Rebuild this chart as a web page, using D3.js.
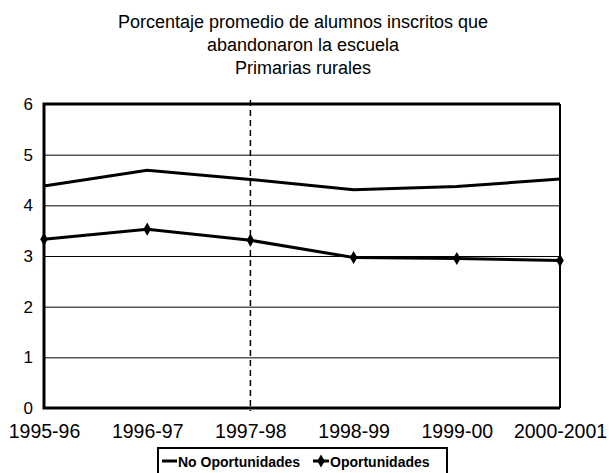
<!DOCTYPE html>
<html>
<head>
<meta charset="utf-8">
<script src="https://cdn.jsdelivr.net/npm/d3@7"></script>
<style>
body { margin: 0; background: #fff; }
text { font-family: "Liberation Sans", Arial, sans-serif; fill: #000; }
</style>
</head>
<body>
<script>
var ciclos = ["1995-96", "1996-97", "1997-98", "1998-99", "1999-00", "2000-2001"];
var noOportunidades = [4.38, 4.69, 4.51, 4.31, 4.37, 4.52];
var oportunidades = [3.33, 3.53, 3.31, 2.97, 2.95, 2.91];
var yTicks = [0, 1, 2, 3, 4, 5, 6];
var titulo = ["Porcentaje promedio de alumnos inscritos que", "abandonaron la escuela", "Primarias rurales"];
var leyenda = ["No Oportunidades", "Oportunidades"];

var width = 609, height = 473;
var mLeft = 44, mRight = 560, mTop = 104, mBottom = 408;

var svg = d3.select("body").append("svg").attr("width", width).attr("height", height);

var x = d3.scalePoint().domain(ciclos).range([mLeft, mRight]);
var y = d3.scaleLinear().domain([0, 6]).range([mBottom, mTop]);

// titulo
svg.selectAll(".titulo").data(titulo).enter().append("text")
  .attr("class", "titulo")
  .attr("x", 303).attr("y", function(d, i){ return 28 + i * 23; })
  .attr("text-anchor", "middle")
  .style("font-size", "18px")
  .text(function(d){ return d; });

// lineas de cuadricula
var yAxis = d3.axisLeft(y).tickValues(yTicks).tickSize(-(mRight - mLeft)).tickPadding(11).tickFormat(d3.format("d"));
var gy = svg.append("g").attr("transform", "translate(" + mLeft + ",0)").call(yAxis);
gy.select(".domain").remove();
gy.selectAll("line").attr("stroke", "#000").attr("stroke-width", 1);
gy.selectAll("text").style("font-size", "17px");

var xAxis = d3.axisBottom(x).tickSize(0).tickPadding(16);
var gx = svg.append("g").attr("transform", "translate(0," + mBottom + ")").call(xAxis);
gx.select(".domain").remove();
gx.selectAll("text").style("font-size", "19.5px");

// linea punteada
svg.append("line")
  .attr("x1", x("1997-98")).attr("x2", x("1997-98"))
  .attr("y1", mTop - 4).attr("y2", mBottom + 3)
  .attr("stroke", "#000").attr("stroke-width", 1.5).attr("stroke-dasharray", "6,4");

// marco
svg.append("path")
  .attr("d", "M" + mRight + "," + mTop + "H" + mLeft + "V" + mBottom + "H" + mRight)
  .attr("fill", "none").attr("stroke", "#000").attr("stroke-width", 3);
svg.append("line")
  .attr("x1", mRight).attr("x2", mRight).attr("y1", mTop).attr("y2", mBottom)
  .attr("stroke", "#000").attr("stroke-width", 2);

var line = d3.line().x(function(d, i){ return x(ciclos[i]); }).y(function(d){ return y(d); });

svg.append("path").datum(noOportunidades).attr("d", line)
  .attr("fill", "none").attr("stroke", "#000").attr("stroke-width", 3);
svg.append("path").datum(oportunidades).attr("d", line)
  .attr("fill", "none").attr("stroke", "#000").attr("stroke-width", 3);

var diamond = d3.symbol().type(d3.symbolDiamond).size(50);
svg.selectAll(".pt").data(oportunidades).enter().append("path")
  .attr("class", "pt")
  .attr("d", diamond)
  .attr("transform", function(d, i){ return "translate(" + x(ciclos[i]) + "," + y(d) + ")"; })
  .attr("fill", "#000");

// leyenda
var lg = svg.append("g");
lg.append("rect").attr("x", 158).attr("y", 448).attr("width", 289).attr("height", 30)
  .attr("fill", "#fff").attr("stroke", "#000").attr("stroke-width", 2);
lg.append("line").attr("x1", 162).attr("x2", 177).attr("y1", 461).attr("y2", 461)
  .attr("stroke", "#000").attr("stroke-width", 3);
lg.append("text").attr("x", 178).attr("y", 467).text(leyenda[0])
  .style("font-size", "14px").style("font-weight", "bold");
lg.append("line").attr("x1", 313).attr("x2", 329).attr("y1", 461).attr("y2", 461)
  .attr("stroke", "#000").attr("stroke-width", 3);
lg.append("path").attr("d", diamond).attr("transform", "translate(321,461)").attr("fill", "#000");
lg.append("text").attr("x", 330).attr("y", 467).text(leyenda[1])
  .style("font-size", "14px").style("font-weight", "bold");
</script>
</body>
</html>
